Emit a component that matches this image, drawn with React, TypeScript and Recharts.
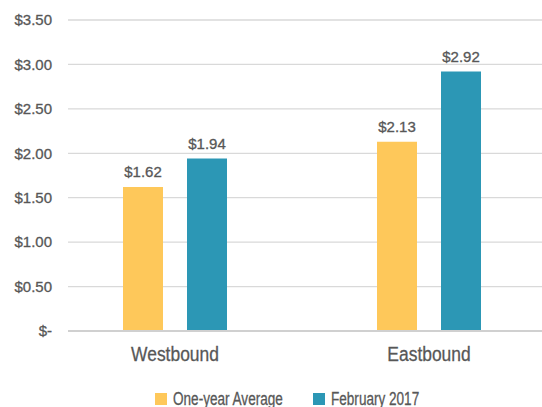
import React from 'react';
import { BarChart, Bar, XAxis, YAxis, CartesianGrid, Legend, LabelList } from 'recharts';

const categories = ['Westbound', 'Eastbound'];
const oneYearAverage = [1.62, 2.13];
const february2017 = [1.94, 2.92];
const yTicks = [0, 0.5, 1, 1.5, 2, 2.5, 3, 3.5];
const seriesNames = ['One-year Average', 'February 2017'];
const seriesColors = ['#FEC85A', '#2C97B5'];

const data = categories.map((c, i) => ({ name: c, avg: oneYearAverage[i], feb: february2017[i] }));

const TEXT = '#575757';
const REG = '"Liberation Sans", Arial, sans-serif';
const CAT_SCALE = 0.83;
const LEG_SCALE = 0.775;
const WEIGHT = 0.3;

const fmtMoney = (v: number) => (v === 0 ? '$-' : `$${v.toFixed(2)}`);

let _ctx: CanvasRenderingContext2D | null = null;
const measure = (text: string, size: number) => {
  if (!_ctx) _ctx = document.createElement('canvas').getContext('2d');
  if (!_ctx) return text.length * size * 0.5;
  _ctx.font = `${size}px "Liberation Sans"`;
  return _ctx.measureText(text).width;
};

const CategoryTick = (props: any) => {
  const { x, y, payload } = props;
  return (
    <g transform={`translate(${x},${y}) scale(${CAT_SCALE},1)`}>
      <text x={0} y={0} dy="0.71em" textAnchor="middle" fill={TEXT} stroke={TEXT} strokeWidth={WEIGHT} fontSize={21} fontFamily={REG}>
        {payload.value}
      </text>
    </g>
  );
};

const LEG_SIZE = 17.5;
const LegendContent = () => (
  <div style={{ display: 'flex', justifyContent: 'center', alignItems: 'center', height: 20, width: 542, paddingLeft: 32, boxSizing: 'border-box', fontFamily: REG, fontSize: LEG_SIZE, color: TEXT, WebkitTextStroke: `${WEIGHT}px ${TEXT}` } as any}>
    {seriesNames.map((n, i) => {
      const w = measure(n, LEG_SIZE) * LEG_SCALE;
      return (
        <div key={n} style={{ display: 'flex', alignItems: 'center', marginLeft: i === 0 ? 0 : 30 }}>
          <span style={{ display: 'inline-block', width: 12, height: 12, background: seriesColors[i], marginRight: 6 }} />
          <span style={{ display: 'inline-block', width: w, whiteSpace: 'nowrap', overflow: 'visible' }}>
            <span style={{ display: 'inline-block', transform: `scaleX(${LEG_SCALE})`, transformOrigin: 'left center' }}>{n}</span>
          </span>
        </div>
      );
    })}
  </div>
);

const textStyle = { fill: TEXT, stroke: TEXT, strokeWidth: WEIGHT, fontSize: 15, fontFamily: REG };

export default function App() {
  return (
    <div style={{ position: 'absolute', left: 0, top: 0 }}>
      <BarChart width={542} height={407} data={data} margin={{ top: 20, right: 0, left: 0, bottom: 0 }} barSize={40} barGap={24}>
        <CartesianGrid vertical={false} stroke="#D9D9D9" strokeWidth={1.3} />
        <XAxis
          dataKey="name"
          height={76}
          padding={{ left: -20, right: -14 }}
          tickLine={false}
          tickSize={0}
          tickMargin={15}
          axisLine={{ stroke: '#D0D0D0', strokeWidth: 2 }}
          tick={<CategoryTick />}
        />
        <YAxis
          width={68}
          domain={[0, 3.5]}
          ticks={yTicks}
          tickFormatter={fmtMoney}
          tickLine={false}
          axisLine={false}
          tickSize={0}
          tickMargin={16}
          tick={textStyle}
        />
        <Legend layout="horizontal" verticalAlign="middle" align="center" wrapperStyle={{ top: 389, left: 0, width: 542 }} content={<LegendContent />} />
        <Bar dataKey="avg" name={seriesNames[0]} fill={seriesColors[0]} isAnimationActive={false}>
          <LabelList dataKey="avg" position="top" offset={10} formatter={(v: any) => fmtMoney(Number(v))} style={textStyle} />
        </Bar>
        <Bar dataKey="feb" name={seriesNames[1]} fill={seriesColors[1]} isAnimationActive={false}>
          <LabelList dataKey="feb" position="top" offset={10} formatter={(v: any) => fmtMoney(Number(v))} style={textStyle} />
        </Bar>
      </BarChart>
    </div>
  );
}
